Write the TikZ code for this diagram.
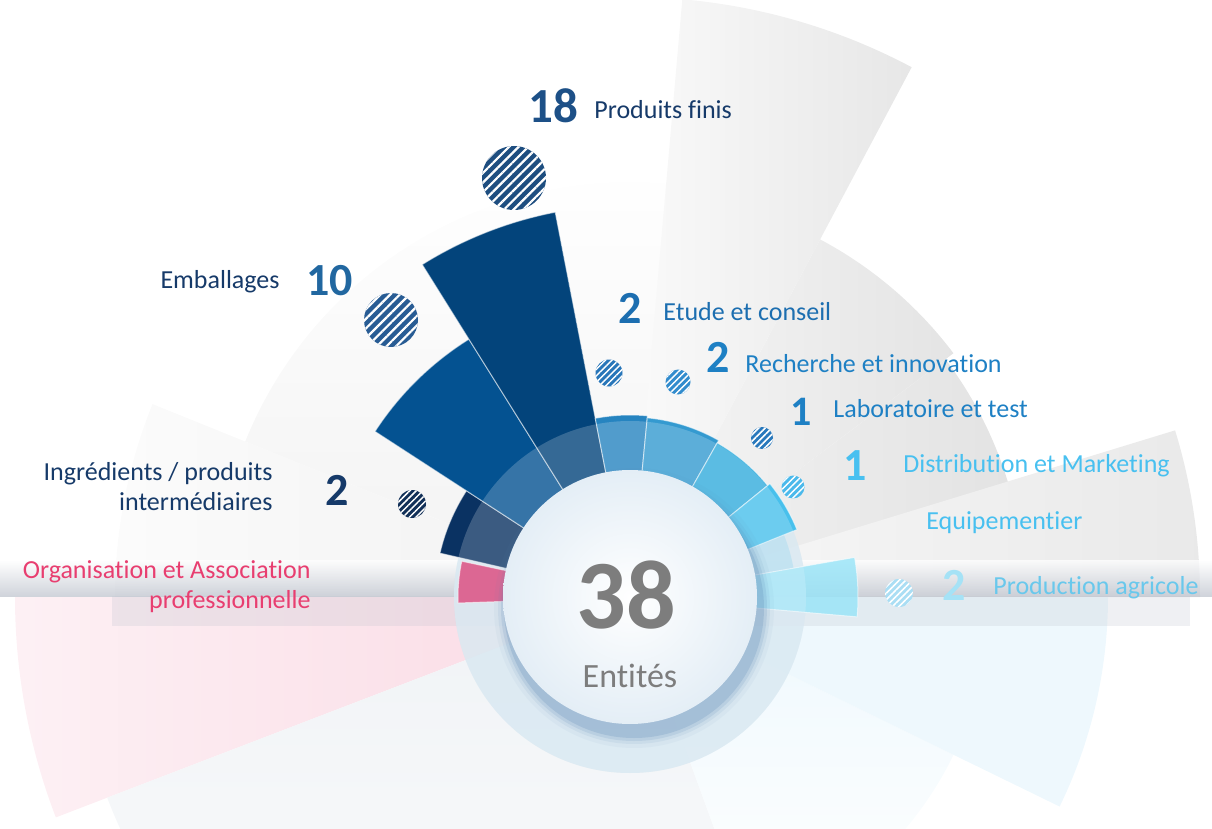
\documentclass[tikz,border=0pt]{standalone}
\usepackage{fontspec}
\setmainfont{Carlito}[Ligatures=CommonOff]
\usetikzlibrary{patterns.meta}

\definecolor{navytxt}{RGB}{22,58,105}
\definecolor{numfinis}{RGB}{29,80,135}
\definecolor{numemb}{RGB}{33,103,160}
\definecolor{etudetxt}{RGB}{28,110,176}
\definecolor{rechtxt}{RGB}{30,128,196}
\definecolor{distrtxt}{RGB}{72,192,240}
\definecolor{prodtxt}{RGB}{105,200,236}
\definecolor{prodnum}{RGB}{165,226,246}
\definecolor{orgtxt}{RGB}{232,62,112}
\definecolor{centretxt}{RGB}{125,125,125}

\definecolor{barfinis}{RGB}{3,68,123}
\definecolor{baremb}{RGB}{4,82,145}
\definecolor{baring}{RGB}{10,50,98}
\definecolor{barorg}{RGB}{212,66,120}
\definecolor{baretude}{RGB}{38,132,192}
\definecolor{barrech}{RGB}{52,154,208}
\definecolor{barlabo}{RGB}{50,172,220}
\definecolor{bardistr}{RGB}{72,192,236}
\definecolor{barequip}{RGB}{150,212,238}
\definecolor{barprod}{RGB}{150,228,248}

\definecolor{ringblue}{RGB}{206,226,238}
\definecolor{shadowblue}{RGB}{90,135,180}
\definecolor{discrim}{RGB}{228,238,246}
\definecolor{bandgray}{RGB}{192,197,207}
\definecolor{pinkpale}{RGB}{250,218,228}
\definecolor{bluepale}{RGB}{238,248,253}
\definecolor{greypale}{RGB}{240,243,246}

\definecolor{dotfinis}{RGB}{30,78,128}
\definecolor{dotemb}{RGB}{40,92,148}
\definecolor{doting}{RGB}{18,48,88}
\definecolor{dotetude}{RGB}{40,118,185}
\definecolor{dotrech}{RGB}{50,140,205}
\definecolor{dotlabo}{RGB}{40,120,188}
\definecolor{dotdistr}{RGB}{75,185,235}
\definecolor{dotprod}{RGB}{170,222,244}

% wedge from the centre: start angle, end angle, radius (angles as seen on the page)
\newcommand{\sectorpath}[3]{(ctr) -- ++(-#1:#3) arc[start angle=-#1, end angle=-#2, radius=#3] -- cycle}

\begin{document}
\begin{tikzpicture}[x=0.5pt, y=-0.5pt,
        lbl/.style={inner sep=0pt, font=\fontsize{13}{15}\selectfont},
        num/.style={inner sep=0pt, font=\fontsize{23}{24}\selectfont\bfseries},
        bar/.style={fill=#1, draw=white, draw opacity=0.55, line width=0.5pt},
        bigdot/.style={circle, inner sep=0pt, fill=#1,
            postaction={pattern={Lines[angle=45, distance=3.4pt, line width=1.1pt]}, pattern color=white}},
        smalldot/.style={circle, inner sep=0pt, fill=#1,
            postaction={pattern={Lines[angle=45, distance=2.3pt, line width=0.75pt]}, pattern color=white}}]
    \useasboundingbox (0,0) rectangle (1212,829);
    \clip (0,0) rectangle (1212,829);
    \coordinate (ctr) at (630,597);

    % pale wedges behind the chart
    \shade[top color=white, bottom color=gray!10] \sectorpath{82}{158}{415};
    \shade[left color=gray!3, right color=gray!11] \sectorpath{158}{183}{515};
    \shade[left color=gray!7, right color=gray!21] \sectorpath{37}{62}{405};
    \shade[left color=gray!9, right color=gray!22] \sectorpath{16}{37}{395};
    \shade[left color=gray!4, right color=gray!19] \sectorpath{62}{85}{600};
    \shade[left color=gray!5, right color=gray!17] \sectorpath{0}{17}{570};
    \shade[left color=pinkpale!40!white, right color=pinkpale] \sectorpath{180}{201}{615};
    \shade[top color=greypale, bottom color=white] \sectorpath{201}{290}{560};
    \shade[top color=bluepale, bottom color=white] \sectorpath{290}{334}{360};
    \fill[bluepale] \sectorpath{334}{360}{478};

    % glossy band
    \shade[top color=white, bottom color=bandgray, opacity=0.75] (0,560) rectangle (1212,596);
    \fill[bandgray, opacity=0.25] (112,596) rectangle (1190,626);

    % ring and bars
    \fill[ringblue, opacity=0.8, even odd rule] (ctr) circle[radius=176] (ctr) circle[radius=120];
    \fill[barequip, opacity=0.5] \sectorpath{10}{22}{166};
    \path[bar=barorg] \sectorpath{168}{182}{172};
    \path[bar=baring] \sectorpath{147}{167}{195};
    \path[bar=baremb] \sectorpath{122}{147}{304};
    \path[bar=barfinis] \sectorpath{101}{122}{392};
    \path[bar=baretude] \sectorpath{84.5}{101}{182};
    \path[bar=barrech] \sectorpath{60.5}{84.5}{180};
    \path[bar=barlabo] \sectorpath{39}{60.5}{177};
    \path[bar=bardistr] \sectorpath{22}{39}{180};
    \path[bar=barprod, fill opacity=0.8] \sectorpath{-5}{10}{228};
    \fill[white, opacity=0.2, even odd rule] (ctr) circle[radius=176] (ctr) circle[radius=120];

    % centre disc
    \foreach \rr/\op in {140/0.05, 136/0.09, 133/0.15, 130/0.22}
        \fill[shadowblue, opacity=\op] (ctr) ++(4,11) circle[radius=\rr];
    \shade[inner color=white, outer color=discrim] (ctr) circle[radius=127];
    \node[inner sep=0pt, font=\fontsize{49}{50}\selectfont\bfseries, text=centretxt, anchor=base] (total) at (626,628) {38};
    \node[inner sep=0pt, font=\fontsize{17}{18}\selectfont, text=centretxt, anchor=base] (unit) at (630,687) {Entités};

    % hatched dots
    \node[bigdot=dotfinis, minimum size=32pt] (dfinis) at (514,178) {};
    \node[bigdot=dotemb, minimum size=27pt] (demb) at (391,320) {};
    \node[smalldot=doting, minimum size=14pt] (ding) at (412,504) {};
    \node[smalldot=dotetude, minimum size=13.5pt] (detude) at (609,373) {};
    \node[smalldot=dotrech, minimum size=12.5pt] (drech) at (678,382) {};
    \node[smalldot=dotlabo, minimum size=11pt] (dlabo) at (762,438) {};
    \node[smalldot=dotdistr, minimum size=11.5pt] (ddistr) at (793,487) {};
    \node[smalldot=dotprod, minimum size=14pt] (dprod) at (899,593) {};

    % figures and labels
    \node[num, font=\fontsize{24.5}{25}\selectfont\bfseries, text=numfinis, anchor=base west] (nfinis) at (528,123) {18};
    \node[lbl, text=navytxt, anchor=base west] (lfinis) at (594,119) {Produits finis};
    \node[num, text=numemb, anchor=base west] (nemb) at (306,296) {10};
    \node[lbl, text=navytxt, anchor=base east] (lemb) at (280,289) {Emballages};
    \node[num, text=navytxt, anchor=base west] (ning) at (325,505) {2};
    \node[lbl, text=navytxt, align=right, anchor=base east] (ling) at (273,510) {Ingrédients / produits\\intermédiaires};
    \node[lbl, text=orgtxt, align=right, anchor=base east] (lorg) at (311,608) {Organisation et Association\\professionnelle};
    \node[num, text=etudetxt, anchor=base west] (netude) at (618,323) {2};
    \node[lbl, text=etudetxt, anchor=base west] (letude) at (663,321) {Etude et conseil};
    \node[num, text=rechtxt, anchor=base west] (nrech) at (706,372) {2};
    \node[lbl, text=rechtxt, anchor=base west] (lrech) at (745,372) {Recherche et innovation};
    \node[num, font=\fontsize{21}{22}\selectfont\bfseries, text=rechtxt, anchor=base west] (nlabo) at (790,425) {1};
    \node[lbl, text=rechtxt, anchor=base west] (llabo) at (833,417) {Laboratoire et test};
    \node[num, text=distrtxt, anchor=base west] (ndistr) at (843,480) {1};
    \node[lbl, text=distrtxt, anchor=base west] (ldistr) at (903,473) {Distribution et Marketing};
    \node[lbl, text=distrtxt, anchor=base west] (lequip) at (926,529) {Equipementier};
    \node[num, text=prodnum, anchor=base west] (nprod) at (942,600) {2};
    \node[lbl, text=prodtxt, anchor=base west] (lprod) at (993,594) {Production agricole};
\end{tikzpicture}
\end{document}
